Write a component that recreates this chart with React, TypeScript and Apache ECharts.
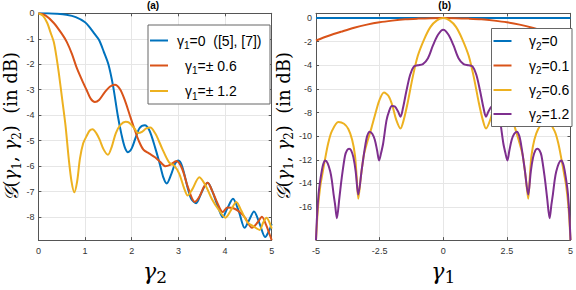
import React, { useEffect, useRef } from 'react';
import * as echarts from 'echarts';

// ---------- Panel (a): G vs gamma2 ----------
const blueA: number[][] = [[0,0],[0.2,0],[0.4,-0.02],[0.6,-0.06],[0.8,-0.15],[1.0,-0.35],[1.1,-0.55],[1.2,-0.8],[1.3,-1.05],[1.4,-1.5],[1.5,-2.0],[1.6,-2.85],[1.7,-4.0],[1.78,-4.75],[1.85,-5.25],[1.92,-5.45],[2.0,-5.3],[2.08,-4.9],[2.17,-4.5],[2.28,-4.39],[2.38,-4.6],[2.5,-5.26],[2.6,-5.9],[2.68,-6.45],[2.75,-6.68],[2.85,-6.3],[2.93,-5.9],[3.0,-5.78],[3.08,-6.0],[3.2,-6.85],[3.28,-7.3],[3.38,-7.45],[3.48,-7.1],[3.56,-6.8],[3.63,-6.65],[3.72,-6.95],[3.85,-7.6],[3.95,-8.0],[4.05,-7.65],[4.17,-7.28],[4.3,-7.8],[4.42,-8.42],[4.52,-8.1],[4.62,-7.78],[4.74,-8.25],[4.86,-8.78],[4.94,-8.55],[5.0,-8.27]];
const orangeA: number[][] = [[0,0],[0.15,-0.08],[0.33,-0.38],[0.5,-0.8],[0.61,-1.13],[0.72,-1.6],[0.82,-2.13],[0.93,-2.6],[1.03,-3.0],[1.12,-3.35],[1.21,-3.48],[1.3,-3.4],[1.42,-3.1],[1.53,-2.88],[1.64,-2.8],[1.75,-2.98],[1.85,-3.4],[1.95,-3.95],[2.05,-4.5],[2.15,-5.0],[2.25,-5.35],[2.37,-5.5],[2.5,-5.65],[2.62,-5.85],[2.72,-6.0],[2.82,-5.95],[2.96,-5.8],[3.08,-6.1],[3.2,-6.8],[3.35,-7.4],[3.45,-7.2],[3.55,-6.8],[3.63,-6.65],[3.72,-6.95],[3.85,-7.5],[3.95,-7.8],[4.05,-7.62],[4.18,-7.65],[4.3,-7.78],[4.42,-8.0],[4.58,-8.42],[4.7,-8.2],[4.79,-7.98],[4.88,-8.3],[4.95,-8.65],[5.0,-8.9]];
const yellowA: number[][] = [[0,0],[0.1,-0.1],[0.19,-0.38],[0.26,-0.75],[0.33,-1.13],[0.39,-1.75],[0.44,-2.38],[0.51,-3.38],[0.58,-4.39],[0.65,-5.7],[0.71,-6.6],[0.77,-7.02],[0.83,-6.6],[0.89,-5.7],[0.96,-5.1],[1.03,-4.83],[1.1,-4.6],[1.16,-4.55],[1.24,-4.7],[1.31,-4.95],[1.4,-5.35],[1.49,-5.55],[1.57,-5.25],[1.66,-4.7],[1.76,-4.38],[1.87,-4.26],[1.95,-4.3],[2.05,-4.5],[2.14,-4.7],[2.22,-4.65],[2.31,-4.52],[2.4,-4.48],[2.5,-4.7],[2.58,-5.0],[2.65,-5.3],[2.8,-5.85],[2.92,-6.0],[3.02,-6.3],[3.12,-6.85],[3.2,-7.15],[3.3,-6.9],[3.45,-6.43],[3.58,-6.75],[3.72,-7.3],[3.86,-7.7],[4.01,-8.02],[4.12,-7.75],[4.24,-7.4],[4.35,-7.75],[4.48,-8.2],[4.6,-8.35],[4.74,-8.5],[4.82,-8.2],[4.89,-8.02],[4.95,-8.2],[5.0,-8.45]];

// ---------- Panel (b): G vs gamma1 ----------
const blueB: number[][] = [[-5,0],[0,0],[5,0]];
const orangeB: number[][] = [[-5,-1.9],[-4.5,-1.5],[-4,-1.15],[-3.5,-0.82],[-3,-0.56],[-2.5,-0.36],[-2,-0.22],[-1.5,-0.11],[-1,-0.05],[-0.5,-0.01],[0,0],[0.5,-0.01],[1,-0.05],[1.5,-0.11],[2,-0.22],[2.5,-0.36],[3,-0.56],[3.5,-0.82],[4,-1.15],[4.5,-1.5],[5,-1.9]];
const yellowB: number[][] = [[-5.0,-18.8],[-4.92,-16.0],[-4.83,-14.2],[-4.75,-13.2],[-4.64,-11.9],[-4.52,-10.6],[-4.38,-9.6],[-4.12,-8.8],[-3.9,-8.95],[-3.73,-9.4],[-3.58,-10.3],[-3.47,-11.6],[-3.4,-13.5],[-3.34,-15.3],[-3.24,-13.5],[-3.12,-11.6],[-3.0,-10.6],[-2.82,-9.3],[-2.63,-7.8],[-2.5,-6.9],[-2.33,-6.3],[-2.15,-6.6],[-2.0,-7.4],[-1.85,-8.6],[-1.68,-9.35],[-1.55,-8.6],[-1.4,-7.2],[-1.2,-5.0],[-1.0,-3.2],[-0.75,-1.8],[-0.5,-0.75],[-0.25,-0.2],[0,0],[0.25,-0.2],[0.5,-0.75],[0.75,-1.8],[1.0,-3.2],[1.2,-5.0],[1.4,-7.2],[1.55,-8.6],[1.68,-9.35],[1.85,-8.6],[2.0,-7.4],[2.15,-6.6],[2.33,-6.3],[2.5,-6.9],[2.63,-7.8],[2.82,-9.3],[3.0,-10.6],[3.12,-11.6],[3.24,-13.5],[3.34,-15.3],[3.4,-13.5],[3.47,-11.6],[3.58,-10.3],[3.73,-9.4],[3.9,-8.95],[4.12,-8.8],[4.38,-9.6],[4.52,-10.6],[4.64,-11.9],[4.75,-13.2],[4.83,-14.2],[4.92,-16.0],[5.0,-18.8]];
const purpleB: number[][] = [[-5.0,-18.8],[-4.96,-16.8],[-4.9,-14.9],[-4.85,-14.0],[-4.77,-12.9],[-4.72,-12.4],[-4.64,-12.06],[-4.54,-12.3],[-4.44,-13.0],[-4.38,-13.7],[-4.31,-14.9],[-4.25,-15.8],[-4.18,-16.95],[-4.08,-15.2],[-3.99,-13.55],[-3.86,-11.66],[-3.78,-11.2],[-3.7,-11.06],[-3.62,-11.2],[-3.53,-11.8],[-3.44,-13.0],[-3.34,-14.95],[-3.2,-12.8],[-3.08,-11.0],[-2.99,-10.0],[-2.89,-9.62],[-2.79,-9.8],[-2.69,-10.3],[-2.6,-11.2],[-2.52,-12.06],[-2.45,-11.5],[-2.36,-10.6],[-2.23,-8.67],[-2.13,-7.9],[-2.02,-7.45],[-1.9,-7.5],[-1.78,-7.9],[-1.68,-8.35],[-1.58,-7.6],[-1.45,-6.2],[-1.3,-4.8],[-1.15,-4.1],[-1.0,-4.0],[-0.8,-3.9],[-0.6,-3.4],[-0.4,-2.3],[-0.2,-1.4],[0,-1.0],[0.2,-1.4],[0.4,-2.3],[0.6,-3.4],[0.8,-3.9],[1.0,-4.0],[1.15,-4.1],[1.3,-4.8],[1.45,-6.2],[1.58,-7.6],[1.68,-8.35],[1.78,-7.9],[1.9,-7.5],[2.02,-7.45],[2.13,-7.9],[2.23,-8.67],[2.36,-10.6],[2.45,-11.5],[2.52,-12.06],[2.6,-11.2],[2.69,-10.3],[2.79,-9.8],[2.89,-9.62],[2.99,-10.0],[3.08,-11.0],[3.2,-12.8],[3.34,-14.95],[3.44,-13.0],[3.53,-11.8],[3.62,-11.2],[3.7,-11.06],[3.78,-11.2],[3.86,-11.66],[3.99,-13.55],[4.08,-15.2],[4.18,-16.95],[4.25,-15.8],[4.31,-14.9],[4.38,-13.7],[4.44,-13.0],[4.54,-12.3],[4.64,-12.06],[4.72,-12.4],[4.77,-12.9],[4.85,-14.0],[4.9,-14.9],[4.96,-16.8],[5.0,-18.8]];

// ticks
const ticksAy = [0, -1, -2, -3, -4, -5, -6, -7, -8];
const ticksBy = [0, -2, -4, -6, -8, -10, -12, -14, -16];

// legends: [subscript, rest]
const legendA: string[][] = [['1', '=0  ([5], [7])'], ['1', '=± 0.6'], ['1', '=± 1.2']];
const legendB: string[][] = [['2', '=0'], ['2', '=0.1'], ['2', '=0.6'], ['2', '=1.2']];

const C_BLUE = '#0072BD';
const C_ORANGE = '#D95319';
const C_YELLOW = '#EDB120';
const C_PURPLE = '#7E2F8E';

const FONT = "'Liberation Sans', Arial, Helvetica, sans-serif";
const MATH = "'DejaVu Serif', serif";
const AXIS_COLOR = '#555';
const LABEL_COLOR = '#333';
const GRID_COLOR = '#e6e6e6';

const G1 = { left: 34.3, top: 13.3, width: 237.4, height: 236 };
const G2 = { left: 316, top: 13.3, width: 257.3, height: 236 };

const xNameRich = {
  g: { fontSize: 22, fontFamily: MATH, fontStyle: 'italic', lineHeight: 28, verticalAlign: 'middle', color: '#000' },
  s: { fontSize: 17, fontFamily: MATH, lineHeight: 18, verticalAlign: 'bottom', color: '#000' },
};
const yNameRich = {
  c: { fontSize: 19, fontFamily: MATH, fontStyle: 'italic', lineHeight: 24, verticalAlign: 'middle', color: '#000' },
  n: { fontSize: 18, fontFamily: MATH, lineHeight: 24, verticalAlign: 'middle', color: '#000' },
  g: { fontSize: 18, fontFamily: MATH, fontStyle: 'italic', lineHeight: 24, verticalAlign: 'middle', color: '#000' },
  s: { fontSize: 12, fontFamily: MATH, lineHeight: 14, verticalAlign: 'bottom', color: '#000' },
};
const yName = '{c|\u{1D4A2}}{n|(}{g|γ}{s|1}{n|, }{g|γ}{s|2}{n|)  (in dB)}';

function xAxes(gridIndex: number, min: number, max: number, interval: number, sub: string) {
  const line = { show: true, onZero: false, lineStyle: { color: AXIS_COLOR, width: 1 } };
  const tick = { show: true, inside: true, length: 3, lineStyle: { color: AXIS_COLOR } };
  return [
    {
      gridIndex, type: 'value', min, max, interval, position: 'bottom',
      axisLine: line, axisTick: tick,
      axisLabel: { show: true, margin: 6, color: LABEL_COLOR, fontSize: 9, fontFamily: FONT },
      splitLine: { show: true, lineStyle: { color: GRID_COLOR, width: 1 } },
      name: `{g|γ}{s|${sub}}`, nameLocation: 'middle', nameGap: 12,
      nameTextStyle: { rich: xNameRich },
    },
    {
      gridIndex, type: 'value', min, max, interval, position: 'top',
      axisLine: line, axisTick: tick, axisLabel: { show: false }, splitLine: { show: false },
    },
  ];
}

function yAxes(gridIndex: number, min: number, max: number, ticks: number[]) {
  const line = { show: true, onZero: false, lineStyle: { color: AXIS_COLOR, width: 1 } };
  return [
    {
      gridIndex, type: 'value', min, max, position: 'left',
      axisLine: line,
      axisTick: { show: true, inside: true, length: 3, lineStyle: { color: AXIS_COLOR }, customValues: ticks },
      axisLabel: { show: true, margin: 4, color: LABEL_COLOR, fontSize: 9, fontFamily: FONT, customValues: ticks },
      splitLine: { show: true, lineStyle: { color: GRID_COLOR, width: 1 } },
      name: yName, nameLocation: 'middle', nameRotate: 90, nameGap: 12,
      nameTextStyle: { rich: yNameRich },
    },
    {
      gridIndex, type: 'value', min, max, position: 'right',
      axisLine: line,
      axisTick: { show: true, inside: true, length: 3, lineStyle: { color: AXIS_COLOR }, customValues: ticks },
      axisLabel: { show: false }, splitLine: { show: false },
    },
  ];
}

function lineSeries(data: number[][], color: string, xi: number, yi: number) {
  return {
    type: 'line', data, xAxisIndex: xi, yAxisIndex: yi,
    showSymbol: false, symbol: 'none', smooth: 0.3, clip: true,
    lineStyle: { color, width: 2 }, itemStyle: { color },
  };
}

const legRich = {
  n: { fontSize: 14, fontFamily: FONT, lineHeight: 20, verticalAlign: 'middle', fill: '#000' },
  s: { fontSize: 10, fontFamily: FONT, lineHeight: 12, verticalAlign: 'bottom', fill: '#000' },
};

function legendElements(box: { x: number; y: number; w: number; h: number }, items: string[][], colors: string[], ys: number[], lineX: [number, number], textXs: number[]) {
  const els: any[] = [
    {
      type: 'rect', z: 100, zlevel: 0, silent: true,
      x: box.x, y: box.y,
      shape: { x: 0, y: 0, width: box.w, height: box.h },
      style: { fill: '#ffffff', stroke: '#666666', lineWidth: 1 },
    },
  ];
  items.forEach((it, i) => {
    els.push({
      type: 'line', z: 101, silent: true,
      shape: { x1: lineX[0], y1: ys[i], x2: lineX[1], y2: ys[i] },
      style: { stroke: colors[i], lineWidth: 2 },
    });
    els.push({
      type: 'text', z: 101, silent: true, x: textXs[i], y: ys[i],
      style: { text: `{n|γ}{s|${it[0]}}{n|${it[1]}}`, rich: legRich, textAlign: 'left', textVerticalAlign: 'middle' },
    });
  });
  return els;
}

export default function App() {
  const ref = useRef<HTMLDivElement>(null);
  useEffect(() => {
    document.body.style.margin = '0';
    const chart = echarts.init(ref.current!, null, { renderer: 'svg' });
    const option: any = {
      animation: false,
      backgroundColor: '#fff',
      grid: [
        { ...G1, containLabel: false },
        { ...G2, containLabel: false },
      ],
      xAxis: [...xAxes(0, 0, 5, 1, '2'), ...xAxes(1, -5, 5, 2.5, '1')],
      yAxis: [...yAxes(0, -8.9, 0, ticksAy), ...yAxes(1, -18.8, 0.4, ticksBy)],
      series: [
        lineSeries(blueA, C_BLUE, 0, 0),
        lineSeries(orangeA, C_ORANGE, 0, 0),
        lineSeries(yellowA, C_YELLOW, 0, 0),
        lineSeries(blueB, C_BLUE, 2, 2),
        lineSeries(orangeB, C_ORANGE, 2, 2),
        lineSeries(yellowB, C_YELLOW, 2, 2),
        lineSeries(purpleB, C_PURPLE, 2, 2),
      ],
      graphic: {
        elements: [
          { type: 'text', x: 153, y: 5.5, z: 100, style: { text: '(a)', font: `bold 10px ${FONT}`, fill: '#000', textAlign: 'center', textVerticalAlign: 'middle' } },
          { type: 'text', x: 444.7, y: 5.5, z: 100, style: { text: '(b)', font: `bold 10px ${FONT}`, fill: '#000', textAlign: 'center', textVerticalAlign: 'middle' } },
          ...legendElements({ x: 148, y: 25, w: 122, h: 79 }, legendA, [C_BLUE, C_ORANGE, C_YELLOW], [40.5, 65.5, 91], [150, 168], [177, 185, 185]),
          ...legendElements({ x: 491.5, y: 28.5, w: 80.5, h: 98 }, legendB, [C_BLUE, C_ORANGE, C_YELLOW, C_PURPLE], [41, 65.5, 90, 114], [493.5, 511.5], [529, 529, 529, 529]),
        ],
      },
    };
    chart.setOption(option);
    return () => chart.dispose();
  }, []);
  return <div ref={ref} style={{ width: 576, height: 290 }} />;
}
